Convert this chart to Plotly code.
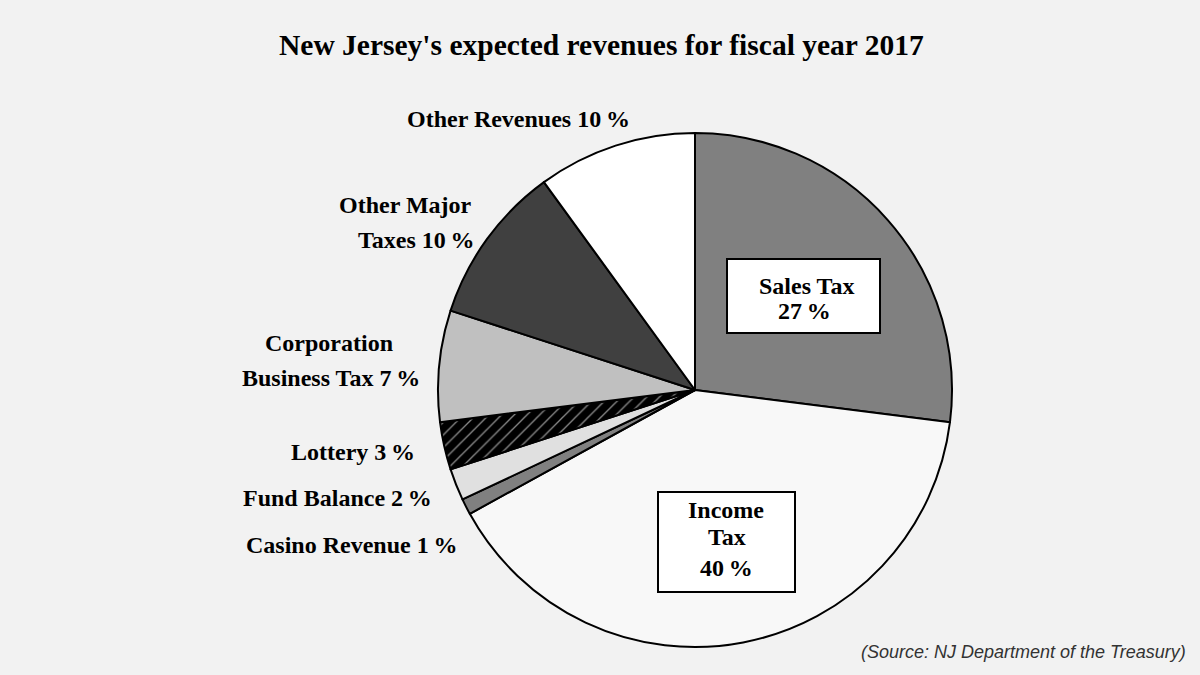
import plotly.graph_objects as go

categories = ["Sales Tax", "Income Tax", "Casino Revenue", "Fund Balance", "Lottery",
              "Corporation Business Tax", "Other Major Taxes", "Other Revenues"]
values = [27, 40, 1, 2, 3, 7, 10, 10]
colors = ["#808080", "#f8f8f8", "#808080", "#e0e0e0", "#000000", "#c0c0c0", "#404040", "#ffffff"]
shapes = ["", "", "", "", "/", "", "", ""]

W, H = 1200, 675
cx, cy, r = 695, 390, 257

fig = go.Figure(go.Pie(
    labels=categories, values=values, sort=False, direction="clockwise", rotation=0,
    marker=dict(colors=colors, line=dict(color="black", width=2),
                pattern=dict(shape=shapes, fgcolor="#888888", bgcolor="#000000", size=9, solidity=0.15)),
    textinfo="none", hoverinfo="label+percent", showlegend=False,
    domain=dict(x=[(cx - r) / W, (cx + r) / W], y=[1 - (cy + r) / H, 1 - (cy - r) / H]),
))

serif = "Liberation Serif"
def px(x): return x / W
def py(y): return 1 - y / H

ann = []
def lab(text, x, y, size=24, **kw):
    d = dict(text=text, x=px(x), y=py(y), xref="paper", yref="paper", showarrow=False,
             xanchor="center", yanchor="middle",
             font=dict(family=serif, size=size, color="black"), align="center")
    d.update(kw)
    ann.append(d)

pct = "\u2009%"
lab("<b>New Jersey's expected revenues for fiscal year 2017</b>", 601, 45, size=29.5)
lab("<b>Other Revenues 10" + pct + "</b>", 518, 119)
lab("<b>Other Major</b>", 405, 205)
lab("<b>Taxes 10" + pct + "</b>", 417, 240)
lab("<b>Corporation</b>", 329, 343)
lab("<b>Business Tax 7" + pct + "</b>", 331, 378)
lab("<b>Lottery 3" + pct + "</b>", 353, 452)
lab("<b>Fund Balance 2" + pct + "</b>", 337, 498)
lab("<b>Casino Revenue 1" + pct + "</b>", 351, 545)
lab("<b>Sales Tax</b>", 806, 286)
lab("<b>27" + pct + "</b>", 804, 311)
lab("<b>Income</b>", 726, 510)
lab("<b>Tax</b>", 727, 537)
lab("<b>40" + pct + "</b>", 726, 568)
lab("<i>(Source: NJ Department of the Treasury)</i>", 1023, 652, size=18,
    font=dict(family="Liberation Sans", size=18, color="#333333"))

boxes = [(727, 259, 880, 333), (658, 492, 795, 592)]
shp = [dict(type="rect", xref="paper", yref="paper", x0=px(x0), x1=px(x1), y0=py(y1), y1=py(y0),
            fillcolor="white", line=dict(color="black", width=2), layer="above")
       for x0, y0, x1, y1 in boxes]

fig.update_layout(width=W, height=H, margin=dict(l=0, r=0, t=0, b=0),
                  paper_bgcolor="#f2f2f2", plot_bgcolor="#f2f2f2", annotations=ann, shapes=shp)
fig.write_html("out.html", config={"displayModeBar": False},
               post_script="document.body.style.margin='0';document.body.style.background='#f2f2f2';")
